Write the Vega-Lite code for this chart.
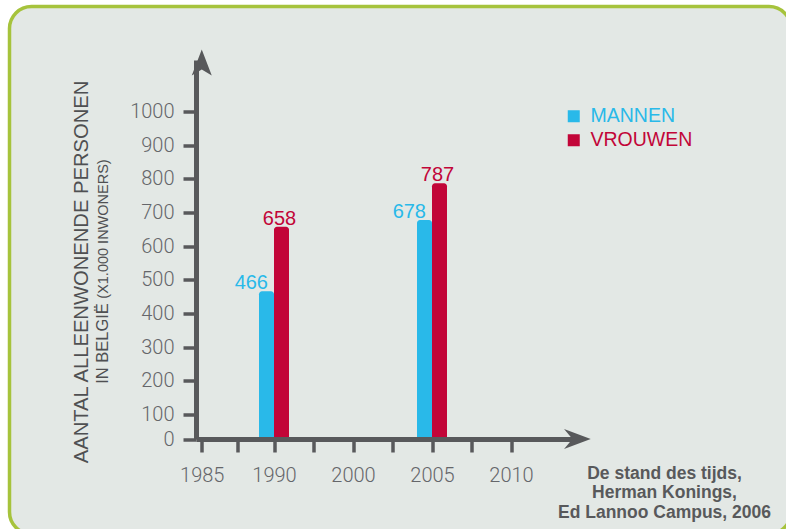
{
  "$schema": "https://vega.github.io/schema/vega-lite/v6.json",
  "width": 781.5,
  "height": 527.5,
  "autosize": "none",
  "padding": {"left": 9.5, "top": 6.5, "right": -5, "bottom": -5},
  "background": "#ffffff",
  "view": {"fill": "#e3e8e5", "stroke": "#a6c33c", "strokeWidth": 3.5, "cornerRadius": 22},
  "data": {"values": [
    {"year": 1990, "gender": "MANNEN", "count": 466},
    {"year": 1990, "gender": "VROUWEN", "count": 658},
    {"year": 2005, "gender": "MANNEN", "count": 678},
    {"year": 2005, "gender": "VROUWEN", "count": 787}
  ]},
  "resolve": {"axis": {"x": "independent", "y": "independent"}},
  "layer": [
    {
      "transform": [{"filter": "datum.gender == 'MANNEN'"}],
      "mark": {"type": "bar", "width": 15, "xOffset": -7.5, "cornerRadiusTopLeft": 3, "cornerRadiusTopRight": 3},
      "encoding": {
        "x": {"field": "year", "type": "quantitative",
          "scale": {"domain": [1985, 1990, 2000, 2005, 2010, 2015], "range": [186.5, 264.5, 343.5, 422.5, 501.5, 572.5], "nice": false, "zero": false},
          "axis": {"orient": "bottom", "offset": -95, "zindex": 1, "grid": false,
            "values": [1985, 1987.5, 1990, 1995, 2000, 2002.5, 2005, 2007.5, 2010],
            "labelExpr": "(datum.value % 5 != 0 || datum.value == 1995) ? '' : format(datum.value, 'd')",
            "labelFlush": false, "labelOverlap": false, "labelBound": false,
            "domainColor": "#58595b", "domainWidth": 5, "tickColor": "#58595b", "tickWidth": 3.5, "tickSize": 13,
            "labelFont": "Roboto", "labelFontWeight": 300, "labelFontSize": 20, "labelColor": "#65666a", "labelPadding": 13,
            "title": ["De stand des tijds,", "Herman Konings,", "Ed Lannoo Campus, 2006"],
            "titleX": 654.5, "titleY": 39, "titleAlign": "center", "titleBaseline": "alphabetic", "titleAngle": 0,
            "titleFont": "Liberation Sans", "titleFontSize": 17.5, "titleFontWeight": "bold", "titleColor": "#58595b", "titleLineHeight": 19.5}},
        "y": {"field": "count", "type": "quantitative", "stack": null,
          "scale": {"domain": [0, 100, 1000, 1154], "range": [432.5, 407.8, 105.2, 53.5], "nice": false, "zero": false},
          "axis": {"orient": "left", "offset": -186.5, "zindex": 1, "grid": false,
            "values": [0, 100, 200, 300, 400, 500, 600, 700, 800, 900, 1000], "format": "d",
            "domainColor": "#58595b", "domainWidth": 5, "tickColor": "#58595b", "tickWidth": 3.5, "tickSize": 13,
            "labelFont": "Roboto", "labelFontWeight": 300, "labelFontSize": 20, "labelColor": "#65666a", "labelPadding": 9,
            "title": "AANTAL ALLEENWONENDE PERSONEN",
            "titleX": -109, "titleY": 265, "titleAngle": 270, "titleAlign": "center", "titleBaseline": "alphabetic",
            "titleFont": "Liberation Sans", "titleFontSize": 20.2, "titleFontWeight": "normal", "titleColor": "#4f5052"}},
        "color": {"field": "gender", "type": "nominal",
          "scale": {"domain": ["MANNEN", "VROUWEN"], "range": ["#29b9e9", "#c20538"]},
          "legend": {"orient": "none", "legendX": 554.5, "legendY": 100, "title": null, "padding": 0,
            "symbolType": "square", "symbolSize": 144, "symbolOpacity": 1, "symbolStrokeWidth": 0,
            "labelFont": "Liberation Sans", "labelFontSize": 19.5, "labelOffset": 7, "rowPadding": 3,
            "encode": {"labels": {"update": {"fill": {"scale": "color", "field": "value"}}}}}}
      }
    },
    {
      "transform": [{"filter": "datum.gender == 'VROUWEN'"}],
      "mark": {"type": "bar", "width": 15, "xOffset": 7.5, "cornerRadiusTopLeft": 3, "cornerRadiusTopRight": 3},
      "encoding": {
        "x": {"field": "year", "type": "quantitative", "axis": null},
        "y": {"field": "count", "type": "quantitative", "stack": null, "axis": null},
        "color": {"field": "gender", "type": "nominal"}
      }
    },
    {
      "transform": [{"filter": "datum.gender == 'MANNEN'"}],
      "mark": {"type": "text", "align": "right", "baseline": "alphabetic", "dx": -6, "dy": -2, "font": "Liberation Sans", "fontSize": 20},
      "encoding": {
        "x": {"field": "year", "type": "quantitative",
          "axis": {"orient": "top", "offset": 0, "domain": false, "ticks": false, "labels": false, "grid": false,
            "title": "(X1.000 INWONERS)", "titleAngle": 270, "titleX": 97.5, "titleY": 222, "titleAlign": "center", "titleBaseline": "alphabetic",
            "titleFont": "Liberation Sans", "titleFontSize": 14.5, "titleFontWeight": "normal", "titleColor": "#4f5052"}},
        "y": {"field": "count", "type": "quantitative",
          "axis": {"orient": "left", "offset": -186.5, "domain": false, "ticks": false, "labels": false, "grid": false,
            "title": "IN BELGIË", "titleAngle": 270, "titleX": -89, "titleY": 336.5, "titleAlign": "center", "titleBaseline": "alphabetic",
            "titleFont": "Liberation Sans", "titleFontSize": 16.5, "titleFontWeight": "normal", "titleColor": "#4f5052"}},
        "text": {"field": "count", "type": "quantitative", "format": "d"},
        "color": {"field": "gender", "type": "nominal"}
      }
    },
    {
      "transform": [{"filter": "datum.gender == 'VROUWEN'"}],
      "mark": {"type": "text", "align": "center", "baseline": "alphabetic", "xOffset": 7.5, "dx": -2, "dy": -2, "font": "Liberation Sans", "fontSize": 20},
      "encoding": {
        "x": {"field": "year", "type": "quantitative", "axis": null},
        "y": {"field": "count", "type": "quantitative", "axis": null},
        "text": {"field": "count", "type": "quantitative", "format": "d"},
        "color": {"field": "gender", "type": "nominal"}
      }
    },
    {
      "data": {"values": [{}]},
      "mark": {"type": "point", "shape": "M1.4,0 L-1.27,-1 L-0.43,0 L-1.27,1 Z", "size": 400, "filled": true, "color": "#58595b", "opacity": 1, "strokeWidth": 0},
      "encoding": {
        "x": {"datum": 2015, "type": "quantitative", "axis": null},
        "y": {"datum": 0, "type": "quantitative", "axis": null}
      }
    },
    {
      "data": {"values": [{}]},
      "mark": {"type": "point", "shape": "M0,-1.05 L-1,1.55 L0,0.95 L1,1.55 Z", "size": 400, "filled": true, "color": "#58595b", "opacity": 1, "strokeWidth": 0},
      "encoding": {
        "x": {"datum": 1985, "type": "quantitative", "axis": null},
        "y": {"datum": 1154, "type": "quantitative", "axis": null}
      }
    }
  ]
}
